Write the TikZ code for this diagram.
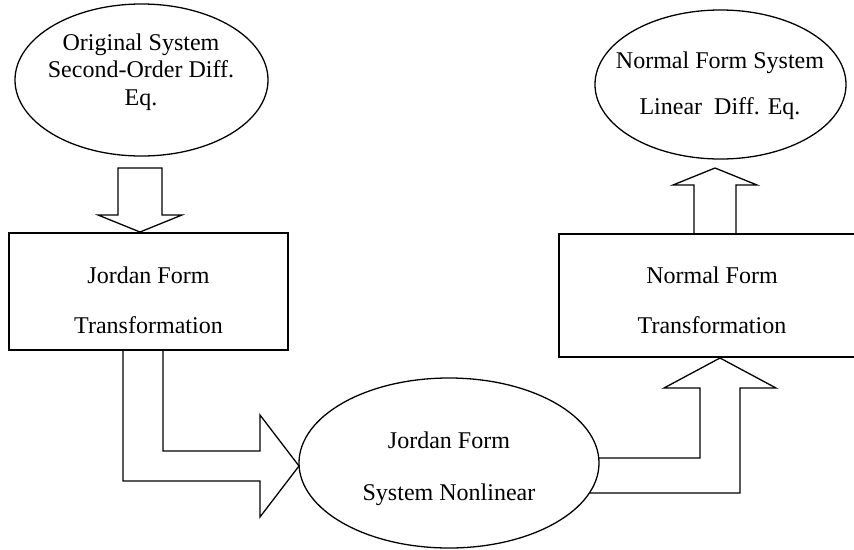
\documentclass[tikz,border=0pt]{standalone}
\usepackage{fontspec}
\setmainfont{Liberation Serif}
\usetikzlibrary{shapes.geometric}
\tikzset{oval/.style={draw, ellipse, line width=1.1pt, inner sep=0pt}}
\tikzset{box/.style={draw, rectangle, line width=1.1pt, inner sep=0pt}}
\tikzset{txt/.style={align=center, inner sep=0pt, font=\fontsize{20.5}{#1}\selectfont}, txt/.default=42.5}
\tikzset{fatarrow/.style={draw, line width=1.1pt, line join=miter}}

\begin{document}
\begin{tikzpicture}[x=0.03cm, y=-0.03cm]
  \clip (0,0) rectangle (854,549);

  % shapes
  \node[oval, minimum width=7.59cm, minimum height=4.56cm] (orig) at (141.5,80) {};
  \node[box, minimum width=8.37cm, minimum height=3.51cm] (jbox) at (148.5,291.5) {};
  \node[oval, minimum width=9cm, minimum height=5.1cm] (jsys) at (449,463) {};
  \node[box, minimum width=9.21cm, minimum height=3.69cm] (nbox) at (712.5,295.5) {};
  \node[oval, minimum width=7.53cm, minimum height=4.47cm] (nsys) at (720.5,84.5) {};

  % texts
  \node[txt=23.4] (origtxt) at (141,72) {Original System\\Second-Order Diff.\\Eq.};
  \node[txt] (jboxtxt) at (148.5,300) {Jordan Form\\Transformation};
  \node[txt=44.3] (jsystxt) at (449,469) {Jordan Form\\System Nonlinear};
  \node[txt] (nboxtxt) at (712,300) {Normal Form\\Transformation};
  \node[txt=39] (nsystxt) at (720,86) {Normal Form System\\Linear~~Diff. Eq.};

  % block arrows
  \draw[fatarrow] (118,168) -- (162,168) -- (162,215) -- (182,215) -- (140,232)
    -- (98,215) -- (118,215) -- cycle;
  \draw[fatarrow] (123,350) -- (123,481) -- (260,481) -- (260,517) -- (299,466)
    -- (260,415) -- (260,451) -- (163,451) -- (163,350);
  \draw[fatarrow] (598.6,458) -- (700,458) -- (700,388) -- (664,388) -- (720,358)
    -- (776,388) -- (740,388) -- (740,493) -- (590,493);
  \draw[fatarrow] (694,234) -- (694,185) -- (673,185) -- (715,168) -- (757,185)
    -- (736,185) -- (736,234);
\end{tikzpicture}
\end{document}
